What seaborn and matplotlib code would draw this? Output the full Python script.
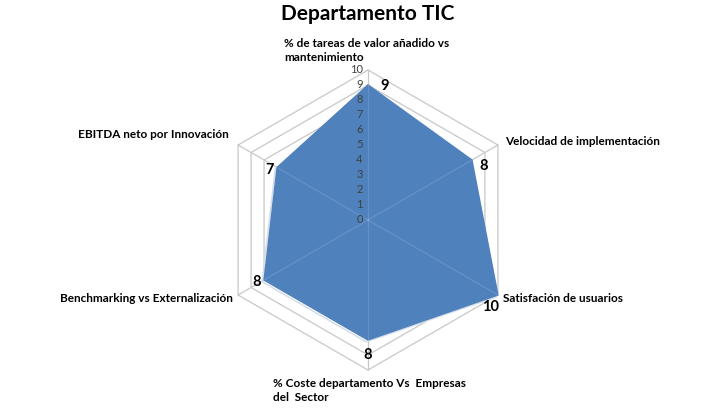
import numpy as np
import seaborn as sns
import matplotlib.pyplot as plt

# data
categories = [
    "% de tareas de valor añadido vs\nmantenimiento",
    "Velocidad de implementación",
    "Satisfación de usuarios",
    "% Coste departamento Vs  Empresas\ndel  Sector",
    "Benchmarking vs Externalización",
    "EBITDA neto por Innovación",
]
values = [9, 8, 10, 8, 8, 7]
ticks = list(range(0, 11))

col_fill = "#4F81BD"
col_grid = "#C8C8C8"

sns.set_theme(style="white")
plt.rcParams["font.family"] = ["Lato", "DejaVu Sans"]

fig = plt.figure(figsize=(7.28, 4.17), dpi=100)
ax = fig.add_axes([0, 0, 1, 1])
# 1 unit = 15 px, center of radar at (368, 220) px
ax.set_xlim(-368 / 15, (728 - 368) / 15)
ax.set_ylim(-(417 - 220) / 15, 220 / 15)
ax.axis("off")

n = len(categories)
angles = np.deg2rad(90 - 60 * np.arange(n))
ux, uy = np.cos(angles), np.sin(angles)

# hexagon rings + spokes
for r in ticks[1:]:
    ax.plot(np.append(ux, ux[0]) * r, np.append(uy, uy[0]) * r,
            color=col_grid, lw=0.9, zorder=1)
for i in range(n):
    ax.plot([0, ux[i] * 10], [0, uy[i] * 10], color=col_grid, lw=0.9, zorder=1)

# filled series
vals = np.array(values, dtype=float)
px, py = ux * vals, uy * vals
ax.fill(np.append(px, px[0]), np.append(py, py[0]), color=col_fill,
        zorder=2)
ax.plot(np.append(px, px[0]) - 0.12, np.append(py, py[0]) - 0.12,
        color="#D6DEEA", lw=1.2, zorder=1.5)
for i in range(n):
    ax.plot([0, px[i]], [0, py[i]], color="white", alpha=0.13, lw=0.9, zorder=3)

# radial tick labels
for t in ticks:
    ax.text(-0.35, t, str(t), ha="right", va="center", fontsize=8,
            color="#404040", zorder=4)

# value labels
val_off = [(1.1, -0.1), (0.8, -0.4), (-0.5, -0.8), (0, -1.0), (-0.5, -0.1), (-0.5, -0.2)]
for i, v in enumerate(values):
    ax.text(px[i] + val_off[i][0], py[i] + val_off[i][1], str(v), ha="center",
            va="center", fontsize=10.5, fontweight="bold", color="black", zorder=4)

# category labels
lab_pos = [
    ((284 - 368) / 15, (220 - 38) / 15, "left", "top"),
    ((505 - 368) / 15, (220 - 142) / 15, "left", "center"),
    ((503 - 368) / 15, (220 - 298) / 15, "left", "center"),
    ((273 - 368) / 15, (220 - 378) / 15, "left", "top"),
    ((233 - 368) / 15, (220 - 298) / 15, "right", "center"),
    ((229 - 368) / 15, (220 - 135) / 15, "right", "center"),
]
for lab, (x, y, ha, va) in zip(categories, lab_pos):
    ax.text(x, y, lab, ha=ha, va=va, fontsize=8.5, fontweight="bold",
            color="black", linespacing=1.35)

fig.text(368 / 728, 1 - 14 / 417, "Departamento TIC", ha="center", va="center",
         fontsize=15, fontweight="bold", color="black")

fig.savefig("out.png", dpi=100)
